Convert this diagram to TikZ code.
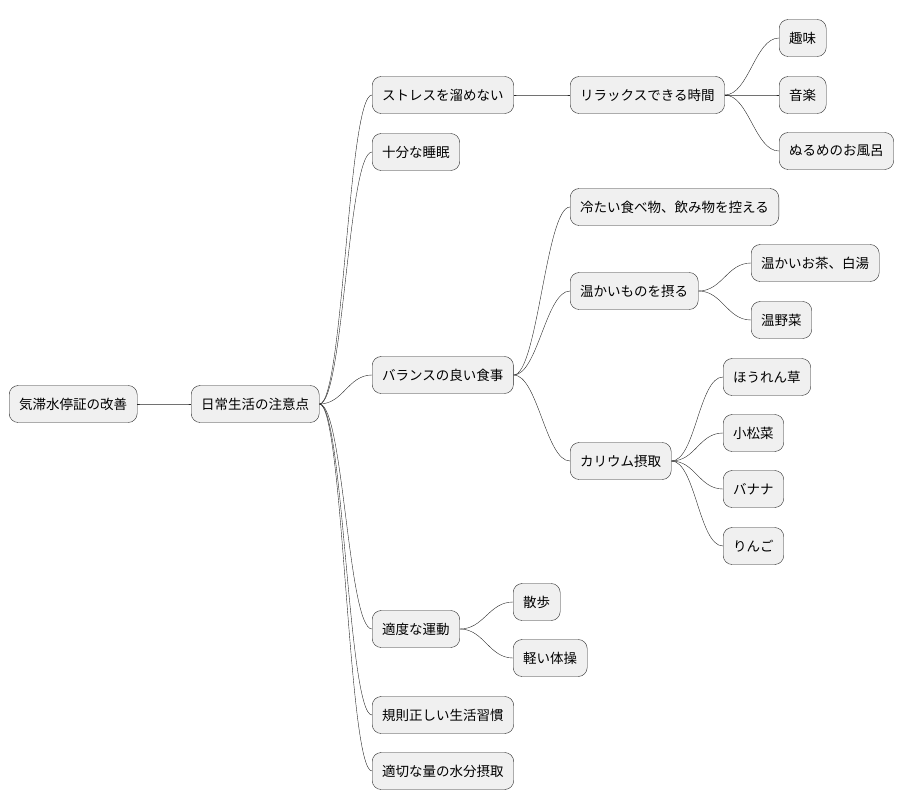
\documentclass[tikz,border=0pt]{standalone}
\usepackage{fontspec}
\setmainfont{Noto Sans CJK JP}
\begin{document}
\begin{tikzpicture}[x=1pt,y=-1pt,
topicnode/.style={rectangle, draw=black!85, fill=black!6, rounded corners=9pt, minimum height=37pt, inner xsep=10pt, anchor=west, font=\fontsize{13.5}{16}\selectfont},
branch/.style={draw=black!85, thin}
]
\useasboundingbox (0,0) rectangle (908,809);
%Nodes
\node[topicnode] at (9,404) (ROOT) {気滞水停証の改善};
\node[topicnode] at (191,404) (DAILY) {日常生活の注意点};

\node[topicnode] at (372,95) (STRESS) {ストレスを溜めない};
\node[topicnode] at (372,152) (SLEEP) {十分な睡眠};
\node[topicnode] at (372,375) (MEAL) {バランスの良い食事};
\node[topicnode] at (372,629) (EXERCISE) {適度な運動};
\node[topicnode] at (372,715) (RHYTHM) {規則正しい生活習慣};
\node[topicnode] at (372,771) (WATER) {適切な量の水分摂取};

\node[topicnode] at (570,95) (RELAX) {リラックスできる時間};
\node[topicnode] at (779,38) (HOBBY) {趣味};
\node[topicnode] at (779,95) (MUSIC) {音楽};
\node[topicnode] at (779,151) (BATH) {ぬるめのお風呂};

\node[topicnode] at (570,207) (COLD) {冷たい食べ物、飲み物を控える};
\node[topicnode] at (570,291) (WARM) {温かいものを摂る};
\node[topicnode] at (751,263) (TEA) {温かいお茶、白湯};
\node[topicnode] at (751,320) (VEG) {温野菜};
\node[topicnode] at (570,461) (KALIUM) {カリウム摂取};
\node[topicnode] at (723,377) (SPINACH) {ほうれん草};
\node[topicnode] at (723,433) (KOMATSU) {小松菜};
\node[topicnode] at (723,489) (BANANA) {バナナ};
\node[topicnode] at (723,546) (APPLE) {りんご};

\node[topicnode] at (513,602) (WALK) {散歩};
\node[topicnode] at (513,658) (GYM) {軽い体操};

%Lines
\foreach \a/\b in {ROOT/DAILY, DAILY/STRESS, DAILY/SLEEP, DAILY/MEAL, DAILY/EXERCISE,
  DAILY/RHYTHM, DAILY/WATER, STRESS/RELAX, RELAX/HOBBY, RELAX/MUSIC, RELAX/BATH,
  MEAL/COLD, MEAL/WARM, MEAL/KALIUM, WARM/TEA, WARM/VEG, KALIUM/SPINACH,
  KALIUM/KOMATSU, KALIUM/BANANA, KALIUM/APPLE, EXERCISE/WALK, EXERCISE/GYM}
  \draw[branch] (\a.east) .. controls ([xshift=24pt]\a.east) and ([xshift=-24pt]\b.west) .. (\b.west);
\end{tikzpicture}
\end{document}
